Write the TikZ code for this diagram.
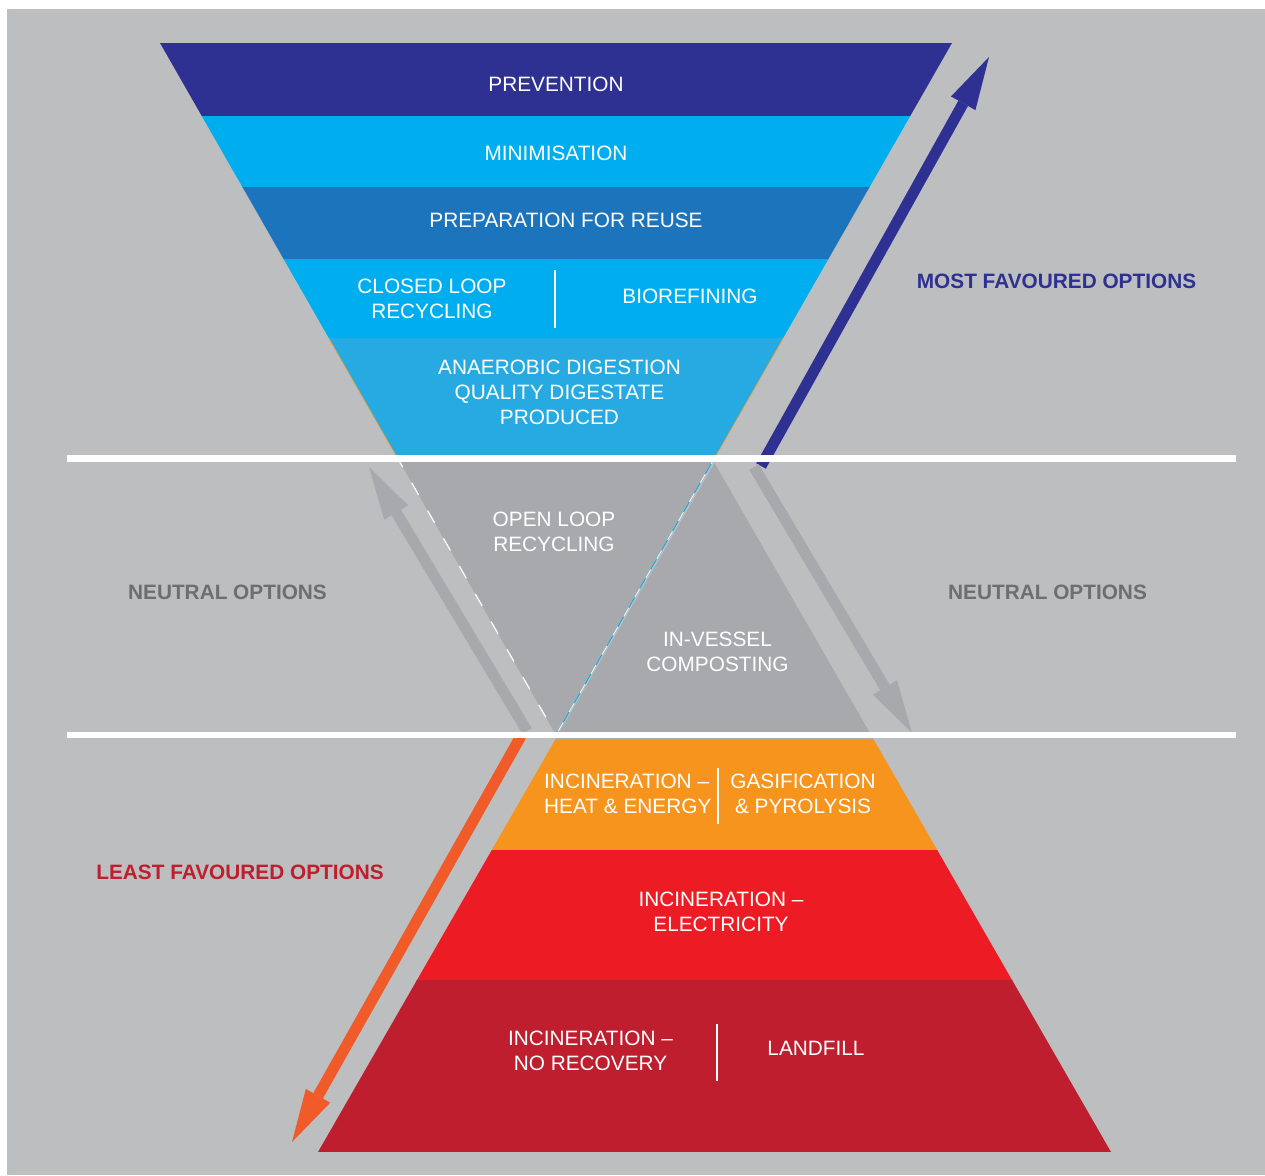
\documentclass[tikz,border=0pt]{standalone}
\usepackage{fontspec}
\setmainfont{Liberation Sans}
\usetikzlibrary{arrows.meta}
\definecolor{bggray}{HTML}{BCBEC0}
\definecolor{midgray}{HTML}{A7A9AC}
\definecolor{navy}{HTML}{2E3192}
\definecolor{cyanband}{HTML}{00AEEF}
\definecolor{blueband}{HTML}{1C75BC}
\definecolor{skyband}{HTML}{27AAE1}
\definecolor{orangeband}{HTML}{F7941D}
\definecolor{redband}{HTML}{ED1C24}
\definecolor{darkred}{HTML}{BE1E2D}
\definecolor{arroworange}{HTML}{F15A29}
\definecolor{textgray}{HTML}{6D6E71}

\begin{document}
\begin{tikzpicture}[x=1pt, y=-1pt,
    band/.style={white, font=\fontsize{20.8}{25}\selectfont, align=center, inner sep=0pt},
    option/.style={font=\fontsize{20.8}{25}\selectfont\bfseries, inner sep=0pt},
    bigarrow/.style={line width=11pt, -{Triangle[length=53pt, width=28pt, line width=0pt]}},
    divider/.style={white, line width=1.5pt},
    separator/.style={white, line width=6.5pt}]
    \useasboundingbox (0,0) rectangle (1265,1175);
    \fill[white] (0,0) rectangle (1265,1175);
    \fill[bggray] (7,9) rectangle (1265,1175);

    \begin{scope}
        \clip (160,43) -- (952,43) -- (556,735) -- cycle;
        \fill[navy] (0,43) rectangle (1265,117);
        \fill[cyanband] (0,116) rectangle (1265,188);
        \fill[blueband] (0,187) rectangle (1265,260);
        \fill[cyanband] (0,259) rectangle (1265,339);
        \fill[skyband] (0,338) rectangle (1265,456);
        \fill[midgray] (0,455) rectangle (1265,741);
    \end{scope}
    \begin{scope}
        \clip (714.5,463) -- (1111,1152) -- (318,1152) -- cycle;
        \fill[midgray] (0,455) rectangle (1265,741);
        \fill[orangeband] (0,740) rectangle (1265,851);
        \fill[redband] (0,850) rectangle (1265,981);
        \fill[darkred] (0,980) rectangle (1265,1152);
    \end{scope}
    \draw[orangeband, line width=0.5pt] (328.8,338) -- (395.8,455);
    \draw[orangeband, line width=0.5pt] (783.2,338) -- (716.2,455);
    \draw[white, line width=1.2pt, dash pattern=on 14pt off 18pt] (395.8,455) -- (556,735);
    \draw[cyanband, line width=0.8pt] (716.2,455) -- (556,735);
    \draw[white, line width=0.8pt, dash pattern=on 10pt off 12pt] (716.2,455) -- (556,735);

    \coordinate (most from) at (761,466);
    \coordinate (most to) at (989,57);
    \coordinate (up from) at (527,731);
    \coordinate (up to) at (369,467);
    \coordinate (down from) at (754,467);
    \coordinate (down to) at (912,733);
    \coordinate (least from) at (521,736);
    \coordinate (least to) at (292,1142);
    \draw[bigarrow, navy] (most from) -- (most to);
    \draw[bigarrow, midgray] (up from) -- (up to);
    \draw[bigarrow, midgray] (down from) -- (down to);
    \draw[bigarrow, arroworange] (least from) -- (least to);

    \draw[separator] (67,458.5) -- (1236,458.5);
    \draw[separator] (67,735) -- (1236,735);
    \draw[divider] (555,270) -- (555,328);
    \draw[divider] (718,768) -- (718,824);
    \draw[divider] (717,1024) -- (717,1081);

    \node[band] (prevention) at (556,84) {PREVENTION};
    \node[band] (minimisation) at (556,153) {MINIMISATION};
    \node[band] (reuse) at (566,220) {PREPARATION FOR REUSE};
    \node[band] (closedloop) at (432,298.5) {CLOSED LOOP\\RECYCLING};
    \node[band] (biorefining) at (690,296) {BIOREFINING};
    \node[band] (anaerobic) at (559.5,392) {ANAEROBIC DIGESTION\\QUALITY DIGESTATE\\PRODUCED};
    \node[band] (openloop) at (554,531.5) {OPEN LOOP\\RECYCLING};
    \node[band] (invessel) at (717.5,651.5) {IN-VESSEL\\COMPOSTING};
    \node[band, anchor=west, align=left] (heat) at (544,793.5) {INCINERATION –\\HEAT \& ENERGY};
    \node[band] (gasification) at (803,793.5) {GASIFICATION\\\& PYROLYSIS};
    \node[band] (electricity) at (721,911.5) {INCINERATION –\\ELECTRICITY};
    \node[band] (norecovery) at (590.5,1050.5) {INCINERATION –\\NO RECOVERY};
    \node[band] (landfill) at (816,1048) {LANDFILL};
    \node[option, textgray] (neutralleft) at (227.5,592) {NEUTRAL OPTIONS};
    \node[option, textgray] (neutralright) at (1047.5,592) {NEUTRAL OPTIONS};
    \node[option, navy] (most) at (1056.5,281) {MOST FAVOURED OPTIONS};
    \node[option, darkred] (least) at (240,872) {LEAST FAVOURED OPTIONS};
\end{tikzpicture}
\end{document}
